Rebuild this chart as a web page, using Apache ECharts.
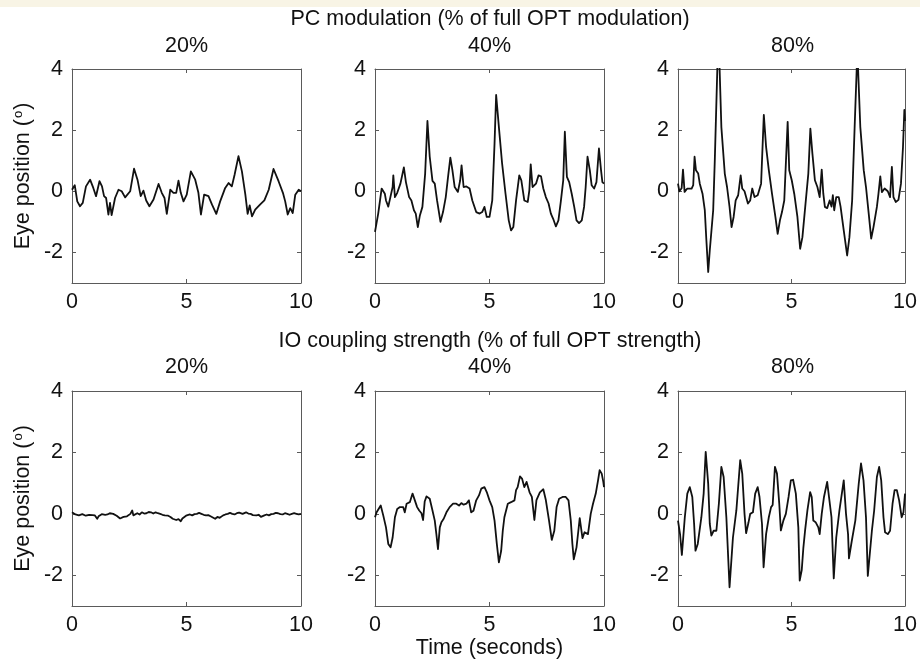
<!DOCTYPE html>
<html>
<head>
<meta charset="utf-8">
<script src="https://cdn.jsdelivr.net/npm/echarts@6/dist/echarts.min.js"></script>
<style>
html,body{margin:0;padding:0;background:#fff;}
#chart{width:920px;height:663px;}
</style>
</head>
<body>
<div id="chart"></div>
<script>
// ---- data (time in seconds, eye position in degrees) ----
var rowTitles = ['PC modulation (% of full OPT modulation)', 'IO coupling strength (% of full OPT strength)'];
var colTitles = ['20%', '40%', '80%'];
var xTicks = [0, 5, 10];
var yTickValues = [-2, 0, 2, 4];
var xLabel = 'Time (seconds)';
var yLabel = 'Eye position ({s|o})';

var pc20 = [[0,0.05],[0.12,0.2],[0.23,-0.33],[0.35,-0.49],[0.47,-0.38],[0.61,0.16],[0.79,0.38],[0.93,0.11],[1.05,-0.16],[1.2,0.33],[1.31,0.16],[1.4,-0.16],[1.49,-0.22],[1.59,-0.76],[1.66,-0.38],[1.73,-0.78],[1.88,-0.22],[2.03,0.05],[2.17,0],[2.32,-0.2],[2.54,0],[2.71,0.74],[2.86,0.38],[3.0,-0.16],[3.12,0.02],[3.24,-0.3],[3.38,-0.49],[3.56,-0.27],[3.78,0.24],[3.92,-0.05],[4.04,-0.22],[4.14,-0.74],[4.29,0.05],[4.43,-0.05],[4.55,-0.05],[4.65,0.35],[4.75,-0.05],[4.87,-0.33],[5.01,-0.11],[5.19,0.65],[5.38,0.38],[5.52,-0.05],[5.63,-0.76],[5.77,-0.11],[5.96,-0.16],[6.11,-0.43],[6.3,-0.74],[6.47,-0.33],[6.69,0.11],[6.84,0.27],[6.98,0.16],[7.1,0.54],[7.27,1.15],[7.42,0.65],[7.57,-0.11],[7.67,-0.74],[7.76,-0.46],[7.86,-0.82],[8.0,-0.6],[8.22,-0.43],[8.4,-0.3],[8.59,0.05],[8.8,0.73],[9.02,0.33],[9.21,-0.05],[9.31,-0.33],[9.42,-0.76],[9.53,-0.55],[9.64,-0.71],[9.75,-0.11],[9.9,0.05],[10,0]];

var pc40 = [[0,-1.33],[0.14,-0.73],[0.29,0.09],[0.43,-0.08],[0.48,-0.3],[0.58,-0.5],[0.65,-0.45],[0.77,0.14],[0.8,0.52],[0.87,-0.19],[0.97,-0.05],[1.11,0.25],[1.26,0.78],[1.35,0.3],[1.49,-0.19],[1.59,-0.3],[1.7,-0.62],[1.78,-0.73],[1.87,-1.17],[1.96,-0.79],[2.07,-0.51],[2.19,0.58],[2.29,2.3],[2.39,1.13],[2.51,0.34],[2.61,0.25],[2.71,-0.3],[2.86,-1.0],[2.97,-0.68],[3.09,-0.19],[3.19,0.47],[3.29,1.1],[3.38,0.69],[3.48,0.14],[3.62,-0.02],[3.72,0.36],[3.78,0.85],[3.87,0.14],[3.99,0.16],[4.13,0.09],[4.25,-0.3],[4.42,-0.68],[4.57,-0.73],[4.68,-0.68],[4.78,-0.51],[4.88,-0.84],[5.0,-0.84],[5.12,-0.3],[5.22,1.56],[5.29,3.15],[5.41,2.1],[5.55,0.91],[5.7,-0.08],[5.84,-0.95],[5.94,-1.28],[6.04,-1.17],[6.16,-0.3],[6.3,0.52],[6.39,0.36],[6.52,-0.3],[6.67,-0.35],[6.74,0.03],[6.8,0.88],[6.88,0.14],[7.03,0.25],[7.14,0.52],[7.25,0.49],[7.35,0.09],[7.46,-0.19],[7.58,-0.4],[7.68,-0.73],[7.78,-0.9],[7.9,-1.15],[8.01,-0.95],[8.12,-0.3],[8.22,0.36],[8.29,1.95],[8.38,0.47],[8.48,0.3],[8.59,-0.08],[8.7,-0.51],[8.8,-0.95],[8.91,-1.04],[9.03,-0.95],[9.13,-0.51],[9.2,0.14],[9.28,1.13],[9.38,0.69],[9.46,0.2],[9.57,0.09],[9.67,0.3],[9.78,1.4],[9.87,0.69],[9.93,0.3],[10,0.25]];

var pc80 = [[0,0.25],[0.06,0],[0.16,0.1],[0.22,0.71],[0.29,-0.02],[0.41,0.09],[0.6,0.09],[0.67,0.2],[0.73,1.13],[0.79,0.69],[0.89,0.58],[0.96,0.25],[1.08,-0.08],[1.18,-0.62],[1.25,-1.6],[1.33,-2.64],[1.4,-1.93],[1.55,-0.62],[1.62,1.0],[1.78,5.3],[1.91,2.1],[2.06,0.58],[2.16,0.14],[2.27,-0.51],[2.36,-1.17],[2.45,-0.84],[2.54,-0.3],[2.65,-0.13],[2.71,-0.08],[2.76,0.52],[2.83,0.09],[2.93,0],[3.08,-0.4],[3.18,-0.3],[3.27,0.09],[3.37,-0.19],[3.51,-0.13],[3.66,0.25],[3.78,2.5],[3.88,1.45],[4.0,0.69],[4.14,-0.08],[4.29,-0.84],[4.39,-1.39],[4.49,-0.95],[4.58,-0.68],[4.68,-0.3],[4.83,2.27],[4.9,0.69],[5.01,0.36],[5.12,-0.08],[5.26,-0.84],[5.38,-1.88],[5.48,-1.5],[5.63,-0.3],[5.74,0.58],[5.83,2.05],[5.92,1.23],[6.03,0.36],[6.14,0.14],[6.24,-0.19],[6.33,0.71],[6.4,-0.08],[6.47,-0.51],[6.57,-0.55],[6.68,-0.3],[6.76,-0.5],[6.82,-0.13],[6.88,-0.62],[6.97,-0.19],[7.08,-0.19],[7.16,-0.5],[7.3,-1.28],[7.45,-2.1],[7.55,-1.5],[7.67,-0.3],[7.78,2.1],[7.9,4.6],[8.03,2.1],[8.18,0.69],[8.28,0.14],[8.4,-0.73],[8.51,-1.55],[8.61,-1.17],[8.76,-0.51],[8.83,-0.08],[8.91,0.49],[8.98,-0.03],[9.1,0.09],[9.24,0],[9.34,-0.19],[9.42,0.8],[9.49,-0.19],[9.59,-0.35],[9.71,-0.28],[9.82,0.25],[9.91,1.45],[9.97,2.66],[10,2.3]];

var io20 = [[0,0.05],[0.08,0.01],[0.15,-0.02],[0.22,0.02],[0.3,-0.05],[0.38,-0.02],[0.45,-0.01],[0.52,-0.05],[0.6,-0.06],[0.68,-0.02],[0.75,-0.03],[0.82,-0.07],[0.9,-0.04],[1.0,-0.05],[1.1,-0.16],[1.16,-0.08],[1.22,-0.05],[1.3,-0.01],[1.38,0.01],[1.45,-0.03],[1.55,-0.02],[1.65,0.02],[1.72,-0.01],[1.8,0.0],[1.88,-0.03],[1.95,-0.06],[2.03,-0.1],[2.1,-0.15],[2.18,-0.1],[2.25,-0.1],[2.33,-0.06],[2.4,-0.08],[2.48,-0.03],[2.55,0.0],[2.63,0.11],[2.68,-0.05],[2.75,0.0],[2.85,0.02],[2.95,-0.02],[3.05,0.05],[3.15,0.01],[3.25,0.02],[3.35,0.06],[3.45,0.05],[3.55,0.01],[3.65,0.05],[3.75,0.02],[3.85,0.0],[3.95,-0.03],[4.05,-0.05],[4.12,-0.02],[4.2,-0.06],[4.3,-0.1],[4.4,-0.16],[4.48,-0.12],[4.55,-0.2],[4.65,-0.17],[4.75,-0.24],[4.82,-0.15],[4.9,-0.11],[4.98,-0.06],[5.05,-0.05],[5.15,-0.02],[5.25,-0.05],[5.35,-0.01],[5.45,0.0],[5.55,0.03],[5.65,0.0],[5.75,-0.03],[5.85,-0.05],[5.95,-0.04],[6.05,-0.08],[6.15,-0.12],[6.25,-0.16],[6.35,-0.1],[6.45,-0.13],[6.52,-0.07],[6.6,-0.05],[6.7,-0.02],[6.8,0.0],[6.9,0.03],[7.0,0.0],[7.1,-0.02],[7.2,0.02],[7.3,0.04],[7.45,0.0],[7.52,0.03],[7.6,0.05],[7.7,0.01],[7.8,0.0],[7.9,-0.04],[8.05,-0.05],[8.15,-0.03],[8.25,-0.1],[8.32,-0.06],[8.4,-0.05],[8.5,-0.02],[8.6,-0.05],[8.7,-0.01],[8.8,0.0],[8.9,0.03],[9.0,0.02],[9.1,-0.01],[9.2,-0.02],[9.3,0.02],[9.4,0.0],[9.5,-0.03],[9.6,0.0],[9.7,0.02],[9.8,0.0],[9.9,-0.02],[10,0.0]];

var io40 = [[0,-0.11],[0.07,0.05],[0.14,0],[0.25,0.27],[0.36,-0.05],[0.48,-0.44],[0.58,-0.98],[0.68,-1.09],[0.77,-0.77],[0.87,-0.11],[0.97,0.16],[1.09,0.22],[1.23,0.22],[1.3,0.05],[1.38,0.33],[1.52,0.38],[1.64,0.66],[1.74,0.44],[1.84,0.22],[1.93,0.11],[2.03,0.02],[2.1,-0.2],[2.17,0.4],[2.25,0.57],[2.39,0.49],[2.51,0.11],[2.61,-0.22],[2.68,-0.66],[2.75,-1.15],[2.83,-0.44],[2.9,-0.27],[3.0,-0.16],[3.12,0.05],[3.26,0.22],[3.41,0.33],[3.55,0.33],[3.67,0.27],[3.77,0.35],[3.87,0.3],[3.99,0.33],[4.1,0.44],[4.2,0.05],[4.3,0.1],[4.42,0.44],[4.54,0.6],[4.64,0.82],[4.78,0.87],[4.88,0.71],[5.0,0.44],[5.12,0.22],[5.22,-0.22],[5.32,-0.98],[5.41,-1.58],[5.51,-1.2],[5.58,-0.55],[5.65,-0.11],[5.8,0.33],[5.94,0.38],[6.09,0.44],[6.16,0.77],[6.23,0.87],[6.33,1.22],[6.42,1.15],[6.52,0.87],[6.62,1.04],[6.75,0.7],[6.85,0.55],[6.96,-0.2],[7.05,0.45],[7.2,0.7],[7.35,0.8],[7.46,0.45],[7.6,-0.22],[7.72,-0.85],[7.83,-0.55],[7.93,0.22],[8.04,0.49],[8.19,0.55],[8.33,0.55],[8.45,0.44],[8.55,-0.22],[8.62,-0.98],[8.68,-1.48],[8.8,-1.09],[8.88,-0.55],[8.94,-0.14],[9.06,-0.79],[9.15,-0.6],[9.23,-0.55],[9.3,-0.66],[9.42,0],[9.52,0.33],[9.64,0.66],[9.74,1.09],[9.81,1.42],[9.9,1.31],[9.97,1.04],[10,0.87]];

var io80 = [[0,-0.22],[0.09,-0.66],[0.17,-1.34],[0.3,-0.11],[0.41,0.66],[0.52,0.87],[0.63,0.55],[0.71,-0.33],[0.77,-1.2],[0.87,-0.98],[1.03,-0.11],[1.13,0.66],[1.22,2.02],[1.33,0.98],[1.4,-0.33],[1.47,-0.71],[1.57,-0.55],[1.69,-0.55],[1.8,0.33],[1.91,1.53],[2.01,1.2],[2.13,-0.11],[2.27,-2.39],[2.42,-0.77],[2.57,0.11],[2.74,1.75],[2.83,1.31],[2.93,0],[3.0,-0.63],[3.1,-0.3],[3.18,0],[3.3,0.05],[3.4,0.66],[3.51,0.87],[3.59,0.55],[3.7,-0.33],[3.77,-1.74],[3.88,-0.66],[4.0,-0.11],[4.1,0.22],[4.17,0.29],[4.27,1.53],[4.36,1.31],[4.46,0.33],[4.53,-0.54],[4.64,-0.22],[4.75,0],[4.87,0.55],[4.97,1.09],[5.07,1.11],[5.19,0.66],[5.3,-0.44],[5.36,-2.17],[5.45,-1.83],[5.52,-1.12],[5.6,-0.52],[5.7,0.11],[5.82,0.71],[5.89,0.55],[5.96,-0.22],[6.06,-0.27],[6.18,-0.44],[6.24,-0.66],[6.33,0],[6.43,0.55],[6.57,1.04],[6.65,0.98],[6.76,-0.11],[6.86,-2.1],[6.97,-0.77],[7.11,0.11],[7.3,1.09],[7.4,0],[7.49,-0.66],[7.53,-1.45],[7.65,-0.9],[7.81,-0.22],[7.96,0.98],[8.06,1.64],[8.17,1.09],[8.28,-0.11],[8.36,-2.02],[8.54,-0.55],[8.64,0.11],[8.76,1.2],[8.86,1.53],[8.95,1.09],[9.05,-0.11],[9.12,-0.6],[9.24,-0.66],[9.34,-0.55],[9.45,0.33],[9.54,0.77],[9.64,0.77],[9.74,0.44],[9.85,-0.11],[9.93,0.05],[10,0.66]];

var panelData = [pc20, pc40, pc80, io20, io40, io80];

// ---- layout ----
var FONT = '"Liberation Sans", Arial, Helvetica, sans-serif';
var FS = 21.5;
var gridLefts = [72, 375, 678];
var gridTops = [69, 391];
var gridW = 229, gridH = 214;
var axisColor = '#5a5a5a';
var textColor = '#111';

var grids = [], xAxes = [], yAxes = [], series = [];
for (var i = 0; i < 6; i++) {
  var r = Math.floor(i / 3), c = i % 3;
  grids.push({ left: gridLefts[c], top: gridTops[r], width: gridW, height: gridH + r, containLabel: false });
  var lineBase = { show: true, onZero: false, lineStyle: { color: axisColor, width: 1 } };
  var tickBase = { show: true, inside: true, length: 4, lineStyle: { color: axisColor, width: 1 } };
  xAxes.push({
    type: 'value', gridIndex: i, min: xTicks[0], max: xTicks[xTicks.length - 1], interval: 5,
    position: 'bottom',
    axisLine: lineBase,
    axisTick: tickBase,
    axisLabel: { show: true, color: textColor, fontSize: FS, fontFamily: FONT, margin: 8 },
    splitLine: { show: false },
    name: (i === 4 ? xLabel : ''), nameLocation: 'middle', nameGap: 30,
    nameTextStyle: { color: textColor, fontSize: FS, fontFamily: FONT }
  });
  xAxes.push({
    type: 'value', gridIndex: i, min: 0, max: 10, interval: 5, position: 'top',
    axisLine: lineBase,
    axisTick: tickBase, axisLabel: { show: false }, splitLine: { show: false }
  });
  yAxes.push({
    type: 'value', gridIndex: i, min: -3, max: 4, position: 'left',
    axisLine: lineBase,
    axisTick: { show: true, inside: true, length: 4, lineStyle: { color: axisColor, width: 1 }, customValues: yTickValues },
    axisLabel: { show: true, color: textColor, fontSize: FS, fontFamily: FONT, margin: 9, customValues: yTickValues },
    splitLine: { show: false },
    name: (c === 0 ? yLabel : ''), nameLocation: 'middle', nameGap: 38, nameRotate: 90,
    nameTextStyle: { color: textColor, fontSize: FS, fontFamily: FONT,
      rich: { s: { fontSize: 13, fontFamily: FONT, color: textColor, verticalAlign: 'top', padding: [0, 1, 8, 1] } } }
  });
  yAxes.push({
    type: 'value', gridIndex: i, min: -3, max: 4, position: 'right',
    axisLine: lineBase,
    axisTick: { show: true, inside: true, length: 4, lineStyle: { color: axisColor, width: 1 }, customValues: yTickValues },
    axisLabel: { show: false }, splitLine: { show: false }
  });
  series.push({
    type: 'line', xAxisIndex: 2 * i, yAxisIndex: 2 * i, data: panelData[i],
    showSymbol: false, symbol: 'none', clip: true, silent: true,
    lineStyle: { color: '#111', width: 1.8, join: 'round' }
  });
}

var graphics = [
  { type: 'rect', shape: { x: 0, y: 0, width: 920, height: 7 }, style: { fill: '#f8f4e5' }, silent: true }
];
function addText(txt, x, y) {
  graphics.push({ type: 'text', x: x, y: y, silent: true,
    style: { text: txt, fill: textColor, font: FS + 'px ' + FONT, textAlign: 'center', textVerticalAlign: 'middle' } });
}
addText(rowTitles[0], 490, 19);
addText(rowTitles[1], 490, 341);
for (var c2 = 0; c2 < 3; c2++) {
  addText(colTitles[c2], gridLefts[c2] + gridW / 2, 46);
  addText(colTitles[c2], gridLefts[c2] + gridW / 2, 367);
}

var chart = echarts.init(document.getElementById('chart'), null, { renderer: 'canvas' });
chart.setOption({
  backgroundColor: '#ffffff',
  animation: false,
  grid: grids,
  xAxis: xAxes,
  yAxis: yAxes,
  series: series,
  graphic: graphics
});
</script>
</body>
</html>
